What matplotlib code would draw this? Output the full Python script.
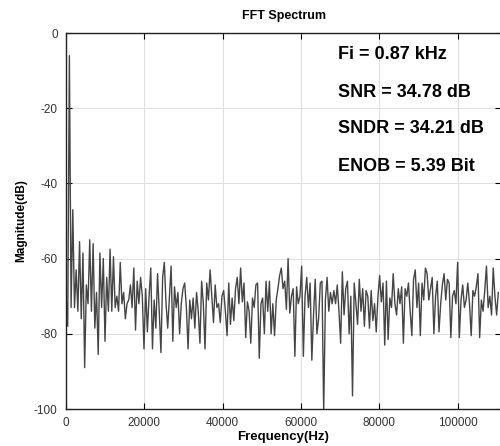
import matplotlib.pyplot as plt
import numpy as np

plt.rcParams['font.family'] = ['Liberation Sans', 'DejaVu Sans']
plt.rcParams['axes.unicode_minus'] = False

# FFT bins (bin spacing ~433 Hz, tone at bin 2 -> 0.87 kHz)
bin_hz = 433.0
magnitude_db = [
    -70, -78, -6, -73, -47, -73, -63, -74, -55.5, -76,
    -58.5, -89, -67, -72, -55, -74, -56, -78.5, -69, -85.5,
    -58.5, -73, -60, -82, -65, -74, -57.5, -74, -59.5, -73,
    -70, -74, -61, -72, -69, -76, -72, -71, -67, -73,
    -62.5, -79, -66, -72, -65, -70, -84, -68, -79.5, -70,
    -62.5, -84, -71, -78.5, -64, -74, -85, -65, -61, -72,
    -78.5, -70, -62, -82, -67.5, -73, -69, -80, -72, -68,
    -66.5, -73, -84, -71, -76, -70.5, -78.5, -69, -74, -82.5,
    -66, -72, -84, -66.5, -71, -63, -70, -77, -67, -73,
    -72, -77, -70, -68.5, -74, -80.5, -66.5, -77.5, -70.5, -76.5,
    -68, -65, -72, -62.5, -71.5, -66.5, -81, -71.5, -74, -82.5,
    -70.5, -73, -67, -66.5, -86.5, -72, -70.5, -80, -66, -74,
    -66, -80, -72, -80.5, -71, -68, -64.5, -62.5, -68, -66,
    -73.5, -60, -74.5, -70, -68, -86, -67.5, -72, -70, -62,
    -86, -70, -65, -73, -66.5, -87, -75, -65.5, -80, -76,
    -66.5, -66, -101, -71, -65, -74, -69, -72, -68.5, -72,
    -67, -74, -82.5, -63.5, -75, -68, -66, -80, -70, -96.5,
    -66.5, -72, -77.5, -65.5, -74, -68, -78, -68.5, -70, -78.5,
    -68.5, -76.5, -72, -79.5, -70, -64.5, -71.5, -66.5, -83, -66,
    -81.5, -70.5, -73, -64, -72, -75, -68, -72, -67.5, -82.5,
    -68, -70, -66.5, -74, -80.5, -65.5, -63, -73, -66.5, -80.5,
    -66.5, -71, -62.5, -64, -71, -68, -65, -80, -70, -66,
    -79.5, -72, -67, -64, -71, -65.5, -66.5, -81, -70, -68.5,
    -72, -61, -81, -71, -67, -73, -71, -66.5, -72, -80.5,
    -68.5, -70, -67.5, -64, -81, -71, -74, -68.5, -62, -73,
    -70, -75, -62.5, -70, -75, -69,
]
freq_hz = np.arange(len(magnitude_db)) * bin_hz

stats = ['Fi = 0.87 kHz', 'SNR = 34.78 dB', 'SNDR = 34.21 dB', 'ENOB = 5.39 Bit']
stats_y = [-5.6, -15.7, -25.5, -35.6]

fig = plt.figure(figsize=(5.0, 4.46), dpi=100)
ax = fig.add_axes([66 / 500, 37 / 446, 435 / 500, 376 / 446])

ax.plot(freq_hz, magnitude_db, color='#454545', linewidth=1.0)

ax.set_xlim(0, 111100)
ax.set_ylim(-100, 0)
ax.set_xticks([0, 20000, 40000, 60000, 80000, 100000])
ax.set_yticks([-100, -80, -60, -40, -20, 0])
ax.grid(True, color='#dddddd', linewidth=0.7)
ax.tick_params(direction='in', length=4, width=0.8, top=True, right=True,
               labelsize=8.5, labelcolor='#333333', pad=6)
for s in ax.spines.values():
    s.set_linewidth(1.0)
    s.set_color('#222222')

ax.set_title('FFT Spectrum', fontsize=9, fontweight='bold', pad=10)
ax.set_xlabel('Frequency(Hz)', fontsize=9.5, fontweight='bold', labelpad=1)
ax.set_ylabel('Magnitude(dB)', fontsize=8.5, fontweight='bold', labelpad=5)

for label, y in zip(stats, stats_y):
    ax.text(69480, y, label, fontsize=13, fontweight='bold', va='center', ha='left')

fig.savefig('out.png', dpi=100)
